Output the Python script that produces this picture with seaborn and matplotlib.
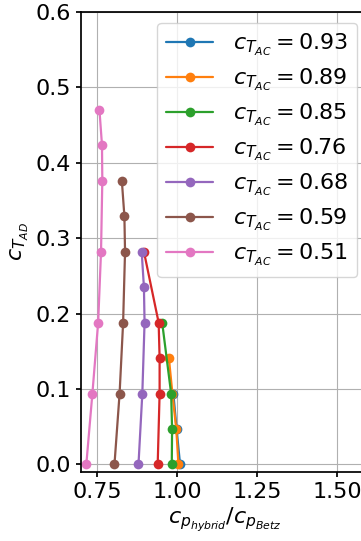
import numpy as np
import pandas as pd
import matplotlib
matplotlib.use("Agg")
import matplotlib.pyplot as plt
import seaborn as sns

# thrust coefficient of the actuator cylinder, one curve each
ct_ac = ["0.93", "0.89", "0.85", "0.76", "0.68", "0.59", "0.51"]

# c_T_AD values (y) and c_p ratio (x), per curve
ct_ad_093 = [0.0, 0.047, 0.094]
cp_093 = [1.010, 0.999, 0.989]

ct_ad_089 = [0.0, 0.047, 0.094, 0.141]
cp_089 = [1.005, 0.998, 0.986, 0.975]

ct_ad_085 = [0.0, 0.047, 0.094, 0.188]
cp_085 = [0.984, 0.985, 0.982, 0.954]

ct_ad_076 = [0.0, 0.094, 0.141, 0.188, 0.282]
cp_076 = [0.940, 0.946, 0.946, 0.943, 0.897]

ct_ad_068 = [0.0, 0.094, 0.188, 0.235, 0.282]
cp_068 = [0.880, 0.892, 0.899, 0.897, 0.890]

ct_ad_059 = [0.0, 0.094, 0.188, 0.282, 0.329, 0.376]
cp_059 = [0.805, 0.821, 0.832, 0.838, 0.836, 0.828]

ct_ad_051 = [0.0, 0.094, 0.188, 0.282, 0.376, 0.423, 0.470]
cp_051 = [0.717, 0.736, 0.754, 0.763, 0.767, 0.766, 0.758]

series = [
    (ct_ad_093, cp_093), (ct_ad_089, cp_089), (ct_ad_085, cp_085),
    (ct_ad_076, cp_076), (ct_ad_068, cp_068), (ct_ad_059, cp_059),
    (ct_ad_051, cp_051),
]

rows = []
for lab, (ys, xs) in zip(ct_ac, series):
    name = r"$c_{T_{AC}} = %s$" % lab
    for x, y in zip(xs, ys):
        rows.append({"cp": x, "ct": y, "curve": name})
df = pd.DataFrame(rows)
order = [r"$c_{T_{AC}} = %s$" % lab for lab in ct_ac]

FS = 16
sns.set_theme(style="ticks", rc={
    "axes.grid": True,
    "grid.color": "#b0b0b0",
    "grid.linewidth": 0.8,
    "axes.edgecolor": "black",
    "axes.labelcolor": "black",
    "text.color": "black",
    "xtick.color": "black",
    "ytick.color": "black",
    "xtick.major.size": 3.5,
    "ytick.major.size": 3.5,
    "font.size": FS,
    "xtick.labelsize": FS,
    "ytick.labelsize": FS,
})
plt.rcParams["font.family"] = ["DejaVu Sans"]

fig = plt.figure(figsize=(3.61, 5.41), dpi=100)
ax = fig.add_axes([0.224, 0.1275, 0.798, 0.851])

sns.lineplot(data=df, x="cp", y="ct", hue="curve", hue_order=order,
             palette="tab10", estimator=None, sort=False, marker="o",
             markersize=7, markeredgewidth=0, linewidth=1.6, ax=ax)

ax.set_xlim(0.70, 1.60)
ax.set_ylim(-0.01, 0.60)
ax.set_xticks([0.75, 1.00, 1.25, 1.50])
ax.set_yticks(np.arange(0, 0.61, 0.1))
ax.set_xlabel(r"$c_{p_{hybrid}}/c_{p_{Betz}}$", fontsize=FS, labelpad=3)
ax.set_ylabel(r"$c_{T_{AD}}$", fontsize=FS, labelpad=3)

ax.legend(loc="upper right", bbox_to_anchor=(357 / 361, 1 - 23 / 541),
          bbox_transform=fig.transFigure, borderaxespad=0, fontsize=FS,
          labelspacing=0.4, handlelength=2.1, handletextpad=0.9,
          title=None, frameon=True, framealpha=0.8, edgecolor="#cccccc")

fig.savefig("out.png", dpi=100)
